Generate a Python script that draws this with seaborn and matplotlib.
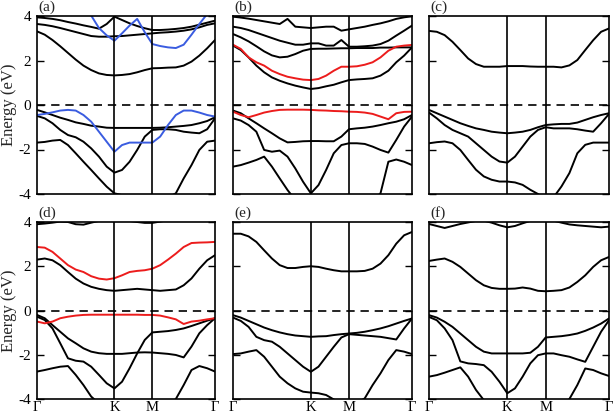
import numpy as np
import pandas as pd
import matplotlib
matplotlib.use("Agg")
import matplotlib.pyplot as plt
import seaborn as sns

# ---------------- data ----------------
# k-path positions (fraction of path length) along Γ-K-M-Γ
KPTS = [0.0, 0.0435, 0.087, 0.1305, 0.174, 0.2175, 0.261, 0.3045, 0.348, 0.3915, 0.435,
        0.4776, 0.5202, 0.5628, 0.6054, 0.648,
        0.692, 0.736, 0.780, 0.824, 0.868, 0.912, 0.956, 1.0]
K_POS = 0.435
M_POS = 0.648
XTICK_POS = [0.0, K_POS, M_POS, 1.0]
XTICK_LABELS = ["Γ", "K", "M", "Γ"]
YTICKS = [-4, -2, 0, 2, 4]
PANEL_LABELS = ["(a)", "(b)", "(c)", "(d)", "(e)", "(f)"]

# panel (a)
a_cb_top = [3.94, 3.91, 3.87, 3.81, 3.73, 3.66, 3.58, 3.51, 3.43, 3.64, 3.97, 3.82, 3.67, 3.55, 3.45, 3.37, 3.37, 3.39, 3.42, 3.46, 3.52, 3.61, 3.70, 3.79]
a_cb2 = [3.64, 3.60, 3.54, 3.46, 3.37, 3.28, 3.19, 3.10, 3.07, 3.07, 3.09, 3.10, 3.13, 3.16, 3.19, 3.22, 3.25, 3.27, 3.30, 3.34, 3.40, 3.49, 3.60, 3.67]
a_cb1 = [3.31, 3.16, 2.92, 2.64, 2.34, 2.04, 1.77, 1.57, 1.42, 1.35, 1.33, 1.35, 1.39, 1.47, 1.57, 1.65, 1.66, 1.68, 1.69, 1.77, 1.95, 2.22, 2.55, 2.92]
a_cb_blue = [4.6, 4.5, 4.4, 4.35, 4.3, 4.25, 4.15, 4.02, 3.46, 3.13, 2.89, 3.22, 3.57, 3.87, 3.27, 2.74, 2.65, 2.59, 2.56, 2.71, 3.16, 3.64, 4.09, 4.5]
a_vb_blue = [-0.45, -0.40, -0.33, -0.25, -0.22, -0.25, -0.45, -0.75, -1.20, -1.65, -2.10, -1.80, -1.69, -1.69, -1.69, -1.69, -1.42, -0.90, -0.45, -0.25, -0.25, -0.34, -0.45, -0.52]
a_vb1 = [-0.22, -0.33, -0.45, -0.57, -0.67, -0.78, -0.85, -0.93, -0.97, -1.02, -1.03, -1.03, -1.03, -1.03, -1.03, -1.03, -1.02, -1.00, -0.97, -0.94, -0.90, -0.82, -0.72, -0.55]
a_vb2 = [-0.49, -0.60, -0.82, -1.12, -1.35, -1.45, -1.65, -1.95, -2.32, -2.77, -3.04, -2.92, -2.55, -2.02, -1.42, -1.12, -1.09, -1.09, -1.12, -1.20, -1.24, -1.27, -1.09, -0.60]
a_vb3 = [-1.69, -1.66, -1.60, -1.57, -1.80, -2.17, -2.55, -2.92, -3.30, -3.67, -3.97, -4.05, -4.15, -4.3, -4.4, -4.4, -4.3, -4.15, -3.97, -3.30, -2.70, -2.02, -1.65, -1.60]

# panel (b)
b_cb_top = [3.97, 3.93, 3.88, 3.82, 3.76, 3.70, 3.64, 3.87, 3.52, 3.49, 3.46, 3.49, 3.52, 3.52, 3.34, 3.40, 3.46, 3.52, 3.60, 3.67, 3.76, 3.87, 3.94, 3.99]
b_cb3 = [3.52, 3.46, 3.37, 3.25, 3.13, 3.01, 2.89, 2.80, 2.71, 2.71, 2.77, 2.77, 2.67, 2.67, 2.92, 2.62, 2.62, 2.64, 2.67, 2.74, 2.89, 3.12, 3.34, 3.57]
b_cb2 = [3.19, 3.04, 2.86, 2.64, 2.41, 2.23, 2.14, 2.17, 2.29, 2.44, 2.52, 2.53, 2.53, 2.54, 2.55, 2.55, 2.56, 2.56, 2.56, 2.58, 2.58, 2.59, 2.59, 2.59]
b_cb1 = [2.67, 2.47, 2.14, 1.77, 1.47, 1.24, 1.09, 0.97, 0.87, 0.79, 0.72, 0.76, 0.84, 0.91, 1.02, 1.12, 1.15, 1.17, 1.20, 1.32, 1.54, 1.92, 2.22, 2.59]
b_cb_red = [2.71, 2.52, 2.14, 1.92, 1.77, 1.54, 1.39, 1.27, 1.20, 1.14, 1.12, 1.17, 1.32, 1.54, 1.72, 1.72, 1.74, 1.81, 1.92, 2.14, 2.44, 2.62, 2.67, 2.70]
b_vb_red = [-0.30, -0.45, -0.55, -0.45, -0.34, -0.27, -0.22, -0.21, -0.21, -0.21, -0.22, -0.24, -0.25, -0.27, -0.28, -0.30, -0.31, -0.34, -0.40, -0.52, -0.64, -0.37, -0.31, -0.30]
b_vb1 = [-0.25, -0.37, -0.60, -0.82, -1.05, -1.27, -1.50, -1.68, -1.66, -1.63, -1.62, -1.62, -1.63, -1.63, -1.42, -1.09, -1.05, -1.02, -0.97, -0.90, -0.82, -0.75, -0.64, -0.45]
b_vb2 = [-0.60, -0.70, -0.90, -1.20, -2.02, -2.10, -2.05, -2.32, -2.85, -3.45, -3.97, -3.60, -2.92, -2.17, -1.80, -1.72, -1.72, -1.75, -1.87, -2.02, -2.14, -1.57, -0.97, -0.52]
b_vb3 = [-2.77, -2.70, -2.59, -2.47, -2.32, -2.77, -3.30, -3.82, -4.27, -4.5, -4.6, -4.6, -4.6, -4.6, -4.6, -4.55, -4.5, -4.4, -4.3, -3.97, -2.55, -2.45, -2.55, -2.70]

# panel (c)
c_cb = [3.33, 3.29, 3.14, 2.84, 2.47, 2.09, 1.84, 1.72, 1.72, 1.72, 1.75, 1.75, 1.75, 1.73, 1.72, 1.72, 1.72, 1.69, 1.78, 2.02, 2.47, 2.91, 3.29, 3.44]
c_vb1 = [-0.22, -0.37, -0.52, -0.67, -0.82, -0.94, -1.05, -1.12, -1.20, -1.24, -1.27, -1.24, -1.20, -1.12, -1.00, -0.90, -0.87, -0.85, -0.85, -0.79, -0.67, -0.55, -0.45, -0.37]
c_vb2 = [-0.34, -0.60, -0.90, -1.12, -1.27, -1.42, -1.72, -2.02, -2.32, -2.54, -2.59, -2.32, -1.87, -1.42, -1.12, -1.00, -1.05, -1.05, -1.05, -1.09, -1.15, -1.20, -0.82, -0.40]
c_vb3 = [-1.72, -1.67, -1.64, -1.72, -2.02, -2.47, -2.91, -3.21, -3.36, -3.44, -3.44, -3.48, -3.59, -3.81, -4.0, -4.3, -4.15, -3.66, -3.06, -2.17, -1.79, -1.69, -1.69, -1.69]

# panel (d)
d_cb_top = [3.90, 3.93, 3.97, 4.02, 4.0, 3.90, 3.88, 3.97, 4.05, 4.1, 4.1, 4.08, 4.05, 4.0, 3.96, 3.96, 4.02, 4.08, 4.1, 4.1, 4.1, 4.1, 4.1, 4.1]
d_cb_red = [2.87, 2.84, 2.65, 2.35, 2.05, 1.85, 1.74, 1.55, 1.44, 1.40, 1.46, 1.59, 1.74, 1.79, 1.82, 1.89, 2.05, 2.30, 2.57, 2.87, 3.05, 3.07, 3.08, 3.10]
d_cb = [2.30, 2.35, 2.27, 2.05, 1.74, 1.44, 1.22, 1.07, 0.98, 0.92, 0.89, 0.92, 0.95, 0.98, 0.95, 0.92, 0.89, 0.92, 0.95, 1.14, 1.45, 1.89, 2.27, 2.50]
d_vb_red = [-0.50, -0.58, -0.50, -0.35, -0.28, -0.23, -0.20, -0.19, -0.19, -0.19, -0.19, -0.19, -0.19, -0.19, -0.20, -0.20, -0.23, -0.31, -0.40, -0.61, -0.50, -0.46, -0.40, -0.35]
d_vb1 = [-0.20, -0.35, -0.66, -0.96, -1.26, -1.48, -1.71, -1.86, -1.93, -1.96, -1.96, -1.96, -1.93, -1.90, -1.89, -1.90, -1.93, -1.96, -2.01, -2.12, -1.63, -1.03, -0.66, -0.35]
d_vb2 = [-0.28, -0.43, -0.81, -1.48, -2.16, -2.27, -2.31, -2.54, -2.91, -3.29, -3.52, -3.22, -2.61, -1.94, -1.33, -0.99, -0.96, -0.93, -0.88, -0.81, -0.70, -0.58, -0.46, -0.35]
d_vb3 = [-2.76, -2.69, -2.61, -2.54, -2.51, -2.91, -3.37, -3.89, -4.2, -4.5, -4.6, -4.6, -4.6, -4.6, -4.6, -4.6, -4.5, -4.3, -4.0, -3.37, -2.69, -2.51, -2.61, -2.76]

# panel (e)
e_cb = [3.47, 3.47, 3.35, 3.10, 2.72, 2.35, 2.05, 1.92, 1.92, 1.97, 2.0, 1.97, 1.89, 1.82, 1.77, 1.77, 1.77, 1.79, 1.89, 2.12, 2.50, 3.02, 3.40, 3.55]
e_vb1 = [-0.21, -0.32, -0.47, -0.62, -0.77, -0.89, -0.99, -1.07, -1.13, -1.16, -1.19, -1.17, -1.16, -1.11, -1.07, -1.04, -1.01, -0.96, -0.89, -0.81, -0.71, -0.59, -0.47, -0.36]
e_vb2 = [-0.32, -0.47, -0.74, -1.19, -1.34, -1.41, -1.64, -1.94, -2.24, -2.54, -2.77, -2.54, -2.09, -1.64, -1.22, -1.07, -1.10, -1.13, -1.16, -1.19, -1.25, -1.31, -0.81, -0.36]
e_vb3 = [-1.97, -1.94, -1.86, -1.79, -2.09, -2.54, -2.99, -3.29, -3.52, -3.67, -3.71, -3.74, -3.82, -4.02, -4.2, -4.3, -4.2, -3.97, -3.37, -2.84, -2.24, -1.79, -1.86, -1.97]

# panel (f)
f_cb_top = [3.91, 3.82, 3.73, 3.82, 3.91, 3.98, 4.05, 4.06, 3.97, 3.85, 3.76, 3.82, 3.94, 4.05, 4.07, 4.08, 4.06, 3.97, 3.89, 3.85, 3.82, 3.79, 3.76, 3.79]
f_cb = [2.24, 2.30, 2.35, 2.20, 1.97, 1.67, 1.37, 1.14, 1.02, 0.98, 0.98, 0.99, 1.04, 0.99, 0.89, 0.87, 0.89, 0.92, 1.04, 1.29, 1.59, 1.97, 2.27, 2.42]
f_vb1 = [-0.21, -0.32, -0.51, -0.74, -1.04, -1.34, -1.64, -1.86, -1.94, -1.94, -1.94, -1.94, -1.94, -1.91, -1.64, -1.22, -1.19, -1.16, -1.11, -1.04, -0.92, -0.77, -0.59, -0.36]
f_vb2 = [-0.29, -0.44, -0.81, -1.34, -2.30, -2.39, -2.42, -2.47, -2.77, -3.22, -3.74, -3.52, -2.99, -2.39, -2.02, -1.94, -1.94, -2.02, -2.09, -2.21, -2.32, -1.64, -0.96, -0.44]
f_vb3 = [-2.99, -2.92, -2.81, -2.69, -2.57, -2.99, -3.59, -4.05, -4.4, -4.6, -4.6, -4.6, -4.6, -4.6, -4.6, -4.6, -4.6, -4.3, -4.0, -3.37, -2.62, -2.69, -2.84, -2.96]

BLACK, BLUE, RED = "black", "#3a5ce0", "#ec1c1c"

PANELS = [
    [(a_cb_top, BLACK), (a_cb2, BLACK), (a_cb1, BLACK), (a_vb1, BLACK), (a_vb2, BLACK), (a_vb3, BLACK),
     (a_cb_blue, BLUE), (a_vb_blue, BLUE)],
    [(b_cb_top, BLACK), (b_cb3, BLACK), (b_cb2, BLACK), (b_cb1, BLACK), (b_vb1, BLACK), (b_vb2, BLACK), (b_vb3, BLACK),
     (b_cb_red, RED), (b_vb_red, RED)],
    [(c_cb, BLACK), (c_vb1, BLACK), (c_vb2, BLACK), (c_vb3, BLACK)],
    [(d_cb_top, BLACK), (d_cb, BLACK), (d_vb1, BLACK), (d_vb2, BLACK), (d_vb3, BLACK),
     (d_cb_red, RED), (d_vb_red, RED)],
    [(e_cb, BLACK), (e_vb1, BLACK), (e_vb2, BLACK), (e_vb3, BLACK)],
    [(f_cb_top, BLACK), (f_cb, BLACK), (f_vb1, BLACK), (f_vb2, BLACK), (f_vb3, BLACK)],
]

# ---------------- style ----------------
sns.set_theme(style="ticks")
plt.rcParams["font.family"] = ["Liberation Serif", "DejaVu Serif"]
plt.rcParams["axes.unicode_minus"] = False

W, H = 614, 417
fig = plt.figure(figsize=(W / 100, H / 100), dpi=100)

lefts = [37, 233, 429]
widths = [178, 179, 180]
tops = [16, 222]
heights = [178, 177]

for idx, bands in enumerate(PANELS):
    r, c = divmod(idx, 3)
    rect = [lefts[c] / W, (H - tops[r] - heights[r]) / H, widths[c] / W, heights[r] / H]
    ax = fig.add_axes(rect)
    for vals, col in bands:
        sns.lineplot(x=KPTS, y=vals, ax=ax, color=col, lw=1.4, estimator=None, sort=False)
    ax.axvline(K_POS, color="black", lw=1.2)
    ax.axvline(M_POS, color="black", lw=1.2)
    ax.axhline(0, color="black", lw=1.2, dashes=(5, 3.5))
    ax.set_xlim(0, 1)
    ax.set_ylim(-4, 4)
    ax.set_yticks(YTICKS)
    ax.set_xticks(XTICK_POS)
    ax.tick_params(axis="y", direction="in", length=5, width=1.0, left=True, right=True,
                   labelsize=11, pad=4, colors="black")
    ax.tick_params(axis="x", length=0, labelsize=10.5, pad=1.5, colors="black")
    if c == 0:
        ax.set_yticklabels([str(v) for v in YTICKS])
        ax.set_ylabel("Energy (eV)", fontsize=12, labelpad=1)
    else:
        ax.set_yticklabels([])
        ax.set_ylabel("")
    if r == 1:
        ax.set_xticklabels(XTICK_LABELS)
    else:
        ax.set_xticklabels([])
    ax.set_xlabel("")
    for s in ax.spines.values():
        s.set_linewidth(1.2)
        s.set_color("black")
    ax.text(0.01, 1.01, PANEL_LABELS[idx], transform=ax.transAxes, ha="left", va="bottom",
            fontsize=11)

fig.savefig("out.png", dpi=100)
